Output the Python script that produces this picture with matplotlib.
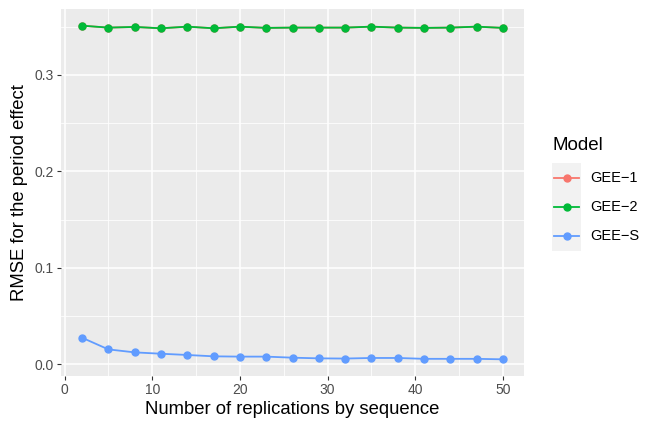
import matplotlib
matplotlib.use("Agg")
import matplotlib.pyplot as plt
from matplotlib.lines import Line2D
from matplotlib.patches import Rectangle

# data
replications = [2, 5, 8, 11, 14, 17, 20, 23, 26, 29, 32, 35, 38, 41, 44, 47, 50]
rmse_gee1 = [0.351, 0.349, 0.3497, 0.3483, 0.350, 0.3483, 0.350, 0.3487, 0.349,
             0.349, 0.349, 0.350, 0.349, 0.3487, 0.349, 0.350, 0.3487]
rmse_gee2 = [0.351, 0.349, 0.3497, 0.3483, 0.350, 0.3483, 0.350, 0.3487, 0.349,
             0.349, 0.349, 0.350, 0.349, 0.3487, 0.349, 0.350, 0.3487]
rmse_gees = [0.0276, 0.0155, 0.0124, 0.011, 0.0097, 0.0083, 0.008, 0.008, 0.0069,
             0.0062, 0.006, 0.0066, 0.0066, 0.0057, 0.0057, 0.0057, 0.0052]
models = ["GEE\u22121", "GEE\u22122", "GEE\u2212S"]
colors = ["#F8766D", "#00BA38", "#619CFF"]
x_ticks = [0, 10, 20, 30, 40, 50]
y_ticks = [0.0, 0.1, 0.2, 0.3]

plt.rcParams["font.family"] = ["Liberation Sans", "DejaVu Sans"]

W, H = 654, 430
fig = plt.figure(figsize=(W / 100, H / 100), dpi=100)
ax = fig.add_axes([61 / W, (H - 376) / H, (524 - 61) / W, (376 - 9) / H])
ax.set_facecolor("#EBEBEB")

series = [rmse_gee1, rmse_gee2, rmse_gees]
for vals, c in zip(series, colors):
    ax.plot(replications, vals, color=c, lw=1.3, marker="o", ms=5, zorder=3)

# ggplot-like expansion of 5%
xlo, xhi = min(replications), max(replications)
allv = rmse_gee1 + rmse_gee2 + rmse_gees
ylo, yhi = min(allv), max(allv)
ax.set_xlim(xlo - 0.05 * (xhi - xlo), xhi + 0.05 * (xhi - xlo))
ax.set_ylim(ylo - 0.05 * (yhi - ylo), yhi + 0.05 * (yhi - ylo))

ax.set_xticks(x_ticks)
ax.set_yticks(y_ticks)
ax.set_yticklabels([f"{v:.1f}" for v in y_ticks])
ax.set_xticks([5, 15, 25, 35, 45], minor=True)
ax.set_yticks([0.05, 0.15, 0.25, 0.35], minor=True)
ax.grid(which="major", color="white", lw=1.1)
ax.grid(which="minor", color="white", lw=0.55)
ax.set_axisbelow(True)
for s in ax.spines.values():
    s.set_visible(False)
ax.tick_params(which="major", length=3, width=0.8, color="#333333",
               labelcolor="#4D4D4D", labelsize=10, pad=2)
ax.tick_params(which="minor", length=0)

ax.set_xlabel("Number of replications by sequence", fontsize=13.3, labelpad=3)
ax.set_ylabel("RMSE for the period effect", fontsize=13.3, labelpad=5)

# legend, ggplot style
fig.text(552 / W, 1 - 146 / H, "Model", fontsize=13.5, va="center", ha="left")
fig.patches.append(Rectangle((552 / W, 1 - 251 / H), 29 / W, 88 / H,
                             transform=fig.transFigure, facecolor="#F2F2F2",
                             edgecolor="none"))
key_y = [178, 207, 236]
for m, c, ky in zip(models, colors, key_y):
    fig.lines.append(Line2D([554 / W, 579 / W], [1 - ky / H, 1 - ky / H],
                            transform=fig.transFigure, color=c, lw=1.3))
    fig.lines.append(Line2D([566.5 / W], [1 - ky / H], transform=fig.transFigure,
                            color=c, marker="o", ms=5, lw=0))
    fig.text(590 / W, 1 - ky / H, m, fontsize=10.5, va="center", ha="left")

fig.savefig("out.png", dpi=100)
